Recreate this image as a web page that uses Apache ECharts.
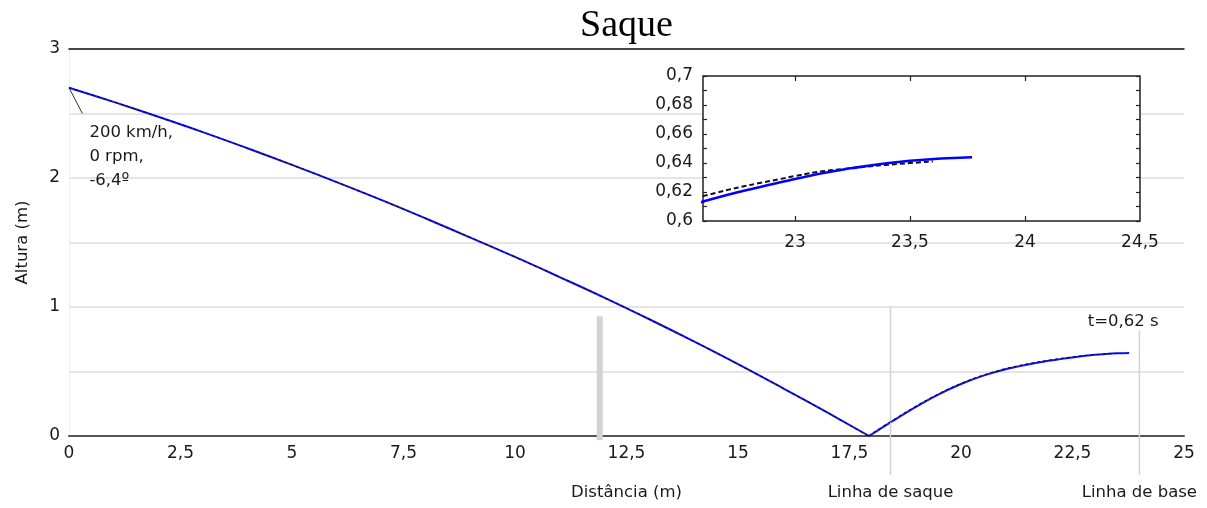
<!DOCTYPE html>
<html>
<head>
<meta charset="utf-8">
<script src="https://cdn.jsdelivr.net/npm/echarts@6/dist/echarts.min.js"></script>
<style>
html, body { margin: 0; padding: 0; background: #fff; }
#chart { width: 1207px; height: 508px; }
</style>
</head>
<body>
<div id="chart"></div>
<script>
// trajetoria (linha azul)
var blueDist = [0, 1, 2, 3, 4, 5, 6, 7, 8, 9, 10, 11, 12, 13, 14, 15, 16, 17, 17.94,
    18.5, 19, 19.5, 20, 20.5, 21, 21.5, 22, 22.5, 23, 23.25, 23.5, 23.77];
var blueHeight = [2.70, 2.59, 2.475, 2.356, 2.231, 2.102, 1.968, 1.83, 1.686, 1.538, 1.388, 1.232, 1.073, 0.907, 0.735, 0.557, 0.372, 0.183, 0,
    0.123, 0.228, 0.323, 0.403, 0.468, 0.518, 0.555, 0.585, 0.609, 0.629, 0.6365, 0.6415, 0.644];
// trajetoria (tracejada preta)
var dashDist = [0, 1, 2, 3, 4, 5, 6, 7, 8, 9, 10, 11, 12, 13, 14, 15, 16, 17, 17.92,
    18.5, 19, 19.5, 20, 20.5, 21, 21.5, 22, 22.5, 23, 23.25, 23.6];
var dashHeight = [2.70, 2.59, 2.475, 2.356, 2.231, 2.102, 1.968, 1.83, 1.686, 1.538, 1.388, 1.232, 1.073, 0.907, 0.735, 0.557, 0.372, 0.183, 0,
    0.128, 0.233, 0.327, 0.407, 0.472, 0.522, 0.56, 0.589, 0.613, 0.631, 0.6365, 0.641];

// quadra: rede e linhas
var netPos = 11.9, netBottom = -0.03, netTop = 0.93;
var courtNames = ['Linha de saque', 'Linha de base'];
var courtPos = [18.42, 24.0];
var courtTop = [1.0, 0.82];
var courtBottom = -0.3;

// anotacoes
var leaderX = [0, 0.3], leaderY = [2.7, 2.5];
var serveText = '200 km/h,\n0 rpm,\n-6,4º';
var timeText = 't=0,62 s';

var insetXLabels = [23, 23.5, 24, 24.5];
var insetXTicks = [23, 23.5, 24];

function zip(a, b) { return a.map(function (v, i) { return [v, b[i]]; }); }
function comma(v) { return String(+(+v).toFixed(2)).replace('.', ','); }
// separa a trajetoria no quique (ponto mais baixo)
function bounceIdx(h) { return h.indexOf(Math.min.apply(null, h)); }

var FONT = 'DejaVu Sans';
var TXT = '#1a1a1a';
var FS = 16.5;

var chart = echarts.init(document.getElementById('chart'));

var courtSeries = courtNames.map(function (name, i) {
    return {
        type: 'line', xAxisIndex: 2, yAxisIndex: 1,
        symbol: 'circle', symbolSize: 0, showSymbol: true,
        lineStyle: { color: '#d2d2d2', width: 1.5 },
        itemStyle: { color: 'transparent' },
        silent: true,
        data: [
            { value: [courtPos[i], courtBottom], label: { show: true, position: 'bottom', distance: 9, formatter: name, fontFamily: FONT, fontSize: FS, color: TXT } },
            [courtPos[i], courtTop[i]]
        ]
    };
});

function trajSeries(dist, height, xi, yi, style, z, smooth) {
    var b = bounceIdx(height);
    var pts = zip(dist, height);
    return [pts.slice(0, b + 1), pts.slice(b)].map(function (d) {
        return {
            type: 'line', xAxisIndex: xi, yAxisIndex: yi, symbol: 'none', z: z,
            smooth: smooth, lineStyle: style, data: d
        };
    });
}

var option = {
    animation: false,
    grid: [
        { left: 69, right: 23, top: 49, bottom: 72 },
        { left: 69, right: 23, top: 49, bottom: 33 },
        { left: 703, right: 67, top: 76, bottom: 287, show: true, backgroundColor: '#fff', borderColor: '#222', borderWidth: 1.5, z: 3 }
    ],
    xAxis: [
        {
            gridIndex: 0, type: 'value', min: 0, max: 25, interval: 2.5, z: 1,
            name: 'Distância (m)', nameLocation: 'middle', nameGap: 48,
            nameTextStyle: { fontFamily: FONT, fontSize: FS, color: TXT },
            axisLine: { lineStyle: { color: '#555', width: 2 } },
            axisTick: { show: false },
            splitLine: { show: false },
            axisLabel: { margin: 9, fontFamily: FONT, fontSize: 17, color: TXT, formatter: comma }
        },
        {
            gridIndex: 0, type: 'value', min: 0, max: 25, position: 'top', z: 1,
            axisLine: { show: true, lineStyle: { color: '#111', width: 1.5 } },
            axisTick: { show: false }, axisLabel: { show: false }, splitLine: { show: false }
        },
        { gridIndex: 1, type: 'value', min: 0, max: 25, show: false },
        {
            gridIndex: 2, type: 'value', min: 22.6, max: 24.5, z: 5,
            axisLine: { show: false },
            axisTick: { show: true, inside: true, length: 5, customValues: insetXTicks, lineStyle: { color: '#222', width: 1.2 } },
            axisLabel: {
                margin: 13, fontFamily: FONT, fontSize: 17, color: TXT, customValues: insetXLabels,
                showMinLabel: true, showMaxLabel: true,
                formatter: function (v) { return Math.abs(v - 22.6) < 1e-6 ? '' : comma(v); }
            },
            splitLine: { show: false }
        },
        {
            gridIndex: 2, type: 'value', min: 22.6, max: 24.5, position: 'top', z: 5,
            axisLine: { show: false },
            axisTick: { show: true, inside: true, length: 5, customValues: insetXTicks, lineStyle: { color: '#222', width: 1.2 } },
            axisLabel: { show: false }, splitLine: { show: false }
        }
    ],
    yAxis: [
        {
            gridIndex: 0, type: 'value', min: 0, max: 3, interval: 0.5,
            name: 'Altura (m)', nameLocation: 'middle', nameGap: 38, nameRotate: 90,
            nameTextStyle: { fontFamily: FONT, fontSize: FS, color: TXT },
            axisLine: { show: true, lineStyle: { color: '#f0f0f0', width: 1 } },
            axisTick: { show: false },
            splitLine: { lineStyle: { color: '#dcdcdc', width: 1.5 } },
            axisLabel: {
                margin: 9, fontFamily: FONT, fontSize: 17, color: TXT,
                formatter: function (v) { return v % 1 === 0 ? String(v) : ''; }
            }
        },
        { gridIndex: 1, type: 'value', min: courtBottom, max: 3, show: false },
        {
            gridIndex: 2, type: 'value', min: 0.6, max: 0.7, interval: 0.02, z: 5,
            axisLine: { show: false },
            axisTick: { show: true, inside: true, length: 4, lineStyle: { color: '#222', width: 1.2 } },
            minorTick: { show: true, splitNumber: 2, length: 4, lineStyle: { color: '#222', width: 1.2 } },
            splitLine: { show: false },
            axisLabel: { margin: 10, fontFamily: FONT, fontSize: 17, color: TXT, formatter: comma }
        },
        {
            gridIndex: 2, type: 'value', min: 0.6, max: 0.7, interval: 0.02, position: 'right', z: 5,
            axisLine: { show: false },
            axisTick: { show: true, inside: true, length: 4, lineStyle: { color: '#222', width: 1.2 } },
            minorTick: { show: true, splitNumber: 2, length: 4, lineStyle: { color: '#222', width: 1.2 } },
            splitLine: { show: false },
            axisLabel: { show: false }
        }
    ],
    series: [
        {
            type: 'line', xAxisIndex: 2, yAxisIndex: 1, symbol: 'none', silent: true,
            lineStyle: { color: '#d3d3d3', width: 6 },
            data: [[netPos, netBottom], [netPos, netTop]]
        }
    ].concat(courtSeries).concat([
        {
            type: 'line', xAxisIndex: 0, yAxisIndex: 0, symbol: 'none',
            lineStyle: { color: '#333', width: 1 },
            data: zip(leaderX, leaderY)
        }
    ])
    .concat(trajSeries(blueDist, blueHeight, 0, 0, { color: '#1010ff', width: 2 }, 2, 0.4))
    .concat(trajSeries(dashDist, dashHeight, 0, 0, { color: '#111', width: 1.1, type: [3, 3] }, 3, 0.4))
    .concat(trajSeries(dashDist, dashHeight, 3, 2, { color: '#111', width: 2, type: [5, 3] }, 6, 0.5))
    .concat(trajSeries(blueDist, blueHeight, 3, 2, { color: '#0000ff', width: 2.6 }, 7, 0.5))
};

chart.setOption(option);

// textos posicionados a partir das coordenadas dos dados
var pLeader = chart.convertToPixel({ gridIndex: 0 }, [leaderX[1], leaderY[1]]);
var pEnd = chart.convertToPixel({ gridIndex: 0 }, [blueDist[blueDist.length - 1], blueHeight[blueHeight.length - 1]]);
var pTitle = chart.convertToPixel({ gridIndex: 0 }, [12.5, 3]);

chart.setOption({
    graphic: [
        {
            type: 'text', x: pTitle[0], y: 26, z: 10,
            style: { text: 'Saque', font: '38px "Liberation Serif"', fill: '#000', align: 'center', verticalAlign: 'middle' }
        },
        {
            type: 'text', x: pLeader[0] + 7, y: pLeader[1] + 7, z: 10,
            style: { text: serveText, fontFamily: FONT, fontSize: FS, lineHeight: 24, fill: TXT, align: 'left', verticalAlign: 'top' }
        },
        {
            type: 'text', x: pEnd[0] - 6, y: pEnd[1] - 31, z: 10,
            style: { text: timeText, fontFamily: FONT, fontSize: FS, fill: TXT, align: 'center', verticalAlign: 'middle' }
        }
    ]
});

window.addEventListener('resize', function () {
    chart.resize();
});
</script>
</body>
</html>
